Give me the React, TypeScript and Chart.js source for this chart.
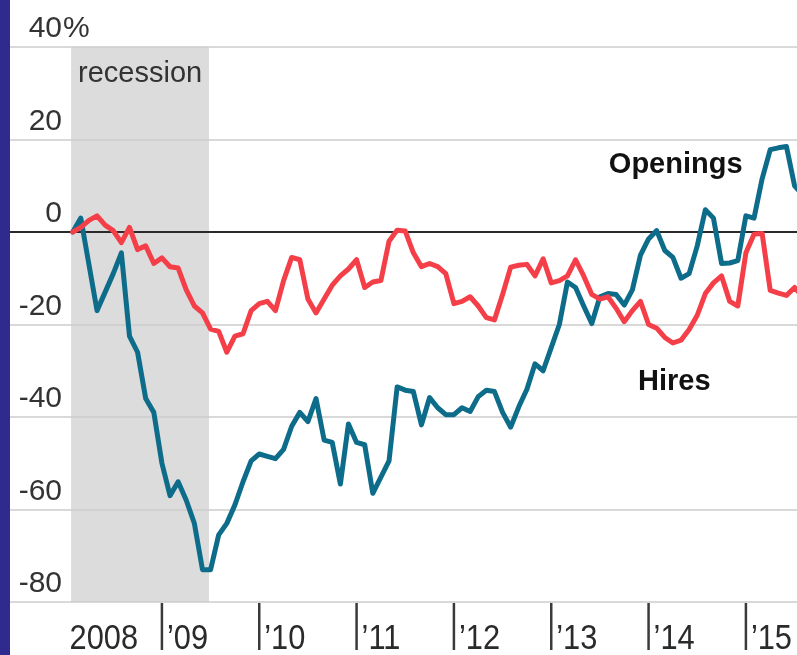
import React, { useEffect, useRef } from 'react';
import { Chart, registerables } from 'chart.js';

Chart.register(...registerables);

// Percent change from a year earlier, monthly, starting Feb 2008 (month index 1 = Feb 2008)
const firstMonth = 1;

const openings = [
  0, 3, -7, -17, -13, -9, -4.5, -22.5, -26, -36, -39,
  -50, -57, -54, -58, -63, -73, -73, -65.5, -63, -59, -54, -49.5,
  -48, -48.5, -49, -47, -42, -39, -41, -36, -45, -45.5, -54.5, -41.5,
  -45.5, -46, -56.5, -53, -49.5, -33.5, -34.2, -34.5, -41.7, -35.8, -38, -39.5,
  -39.5, -38, -38.8, -35.6, -34.2, -34.5, -39, -42.2, -37.8, -34, -28.5, -30,
  -25, -20, -10.8, -12, -16, -19.8, -14, -13.3, -13.5, -15.8, -12.5, -5,
  -1.5, 0.3, -4, -5.5, -10, -9, -3, 4.8, 3, -6.8, -6.7, -6.2,
  3.5, 3, 11.5, 17.8, 18.2, 18.5, 10, 8,
];

const hires = [
  0, 1, 2.5, 3.5, 1.5, 0.3, -2.3, 1, -3.8, -3, -6.8,
  -5.6, -7.5, -7.8, -12.5, -16, -17.5, -21, -21.5, -26, -22.5, -22, -17,
  -15.5, -15, -17, -10.5, -5.5, -6, -14.5, -17.5, -14.5, -11.5, -9.5, -8,
  -6, -12, -10.8, -10.5, -2, 0.4, 0.2, -4.5, -7.5, -6.8, -7.5, -9,
  -15.5, -15, -14, -16, -18.5, -19, -13.5, -7.6, -7.2, -7, -9.5, -5.8,
  -11, -10.5, -9.5, -6, -9.5, -13.5, -14.5, -14, -16.5, -19.4, -17, -15,
  -20, -20.8, -22.8, -24, -23.4, -21.1, -18, -13.3, -11, -9.5, -15, -16,
  -4.5, -0.5, -0.3, -12.6, -13.2, -13.7, -12, -14,
];

const yTicks = [40, 20, 0, -20, -40, -60, -80];
const yTickLabels = ['40%', '20', '0', '-20', '-40', '-60', '-80'];
const yearStarts = [0, 12, 24, 36, 48, 60, 72, 84];
const yearLabels = ['2008', '\u201909', '\u201910', '\u201911', '\u201912', '\u201913', '\u201914', '\u201915'];
const recession = [0.8, 17.8];

const W = 797;
const H = 655;
const TEAL = '#0e6c8b';
const RED = '#f43f49';
const FONT = '"Liberation Sans", Arial, sans-serif';

const decor = {
  id: 'decor',
  beforeDatasetsDraw(chart: any) {
    const { ctx, chartArea: a, scales } = chart;
    const x = scales.x;
    const y = scales.y;
    ctx.save();
    ctx.fillStyle = '#ffffff';
    ctx.fillRect(0, 0, W, H);
    // recession shading
    const r0 = x.getPixelForValue(recession[0]);
    const r1 = x.getPixelForValue(recession[1]);
    ctx.fillStyle = '#dcdcdc';
    ctx.fillRect(r0, a.top, r1 - r0, a.bottom - a.top);
    ctx.fillStyle = '#333333';
    ctx.font = `29px ${FONT}`;
    ctx.textAlign = 'left';
    ctx.textBaseline = 'alphabetic';
    ctx.fillText('recession', r0 + 7, a.top + 35);
    // gridlines + labels
    yTicks.forEach((v, i) => {
      const py = Math.round(y.getPixelForValue(v));
      ctx.beginPath();
      if (v === 0) {
        ctx.strokeStyle = '#2a2a2a';
        ctx.lineWidth = 2;
      } else {
        ctx.strokeStyle = '#cccccc';
        ctx.lineWidth = 1.6;
      }
      ctx.moveTo(a.left, py);
      ctx.lineTo(a.right, py);
      ctx.stroke();
      const lab = yTickLabels[i];
      const num = lab.replace('%', '');
      ctx.fillStyle = '#333333';
      ctx.font = `30px ${FONT}`;
      ctx.textAlign = 'right';
      ctx.fillText(num, a.left + 52, py - 10);
      if (lab.endsWith('%')) {
        ctx.textAlign = 'left';
        ctx.fillText('%', a.left + 53, py - 10);
      }
    });
    // left strip
    ctx.fillStyle = '#2f2a8e';
    ctx.fillRect(0, 0, a.left, H);
    ctx.restore();
  },
  afterDatasetsDraw(chart: any) {
    const { ctx, chartArea: a, scales } = chart;
    const x = scales.x;
    const y = scales.y;
    ctx.save();
    yearStarts.forEach((m, i) => {
      const px = x.getPixelForValue(m);
      if (i > 0) {
        ctx.strokeStyle = '#3a3a3a';
        ctx.lineWidth = 2.5;
        ctx.beginPath();
        ctx.moveTo(px, a.bottom + 1);
        ctx.lineTo(px, H - 5);
        ctx.stroke();
      }
      ctx.save();
      ctx.translate(px + 5, H - 6);
      ctx.scale(0.88, 1);
      ctx.fillStyle = '#2a2a2a';
      ctx.font = `35px ${FONT}`;
      ctx.textAlign = 'left';
      ctx.textBaseline = 'alphabetic';
      ctx.fillText(yearLabels[i], 0, 0);
      ctx.restore();
    });
    ctx.fillStyle = '#111111';
    ctx.font = `bold 29px ${FONT}`;
    ctx.textAlign = 'left';
    ctx.textBaseline = 'alphabetic';
    ctx.fillText('Openings', x.getPixelForValue(67.1), y.getPixelForValue(12.8));
    ctx.fillText('Hires', x.getPixelForValue(70.7), y.getPixelForValue(-34.2));
    ctx.restore();
  },
};

export default function App() {
  const ref = useRef<HTMLCanvasElement>(null);
  useEffect(() => {
    document.body.style.margin = '0';
    const toPts = (arr: number[]) => arr.map((v, i) => ({ x: firstMonth + i, y: v }));
    const chart = new Chart(ref.current as HTMLCanvasElement, {
      type: 'line',
      data: {
        datasets: [
          {
            label: 'Hires',
            data: toPts(hires),
            borderColor: RED,
            borderWidth: 5,
            pointRadius: 0,
            tension: 0,
            borderJoinStyle: 'round',
            borderCapStyle: 'round',
            fill: false,
          },
          {
            label: 'Openings',
            data: toPts(openings),
            borderColor: TEAL,
            borderWidth: 5,
            pointRadius: 0,
            tension: 0,
            borderJoinStyle: 'round',
            borderCapStyle: 'round',
            fill: false,
          },
        ],
      },
      options: {
        animation: false,
        responsive: false,
        devicePixelRatio: 1,
        layout: { padding: { left: 10, right: 0, top: 47, bottom: 53 } },
        scales: {
          x: { type: 'linear', min: -6.73, max: 90.3, display: false },
          y: { min: -80, max: 40, display: false },
        },
        plugins: { legend: { display: false }, tooltip: { enabled: false } },
      },
      plugins: [decor],
    } as any);
    return () => chart.destroy();
  }, []);
  return (
    <div style={{ position: 'absolute', left: 0, top: 0, width: W, height: H }}>
      <canvas ref={ref} width={W} height={H} style={{ display: 'block' }} />
    </div>
  );
}
